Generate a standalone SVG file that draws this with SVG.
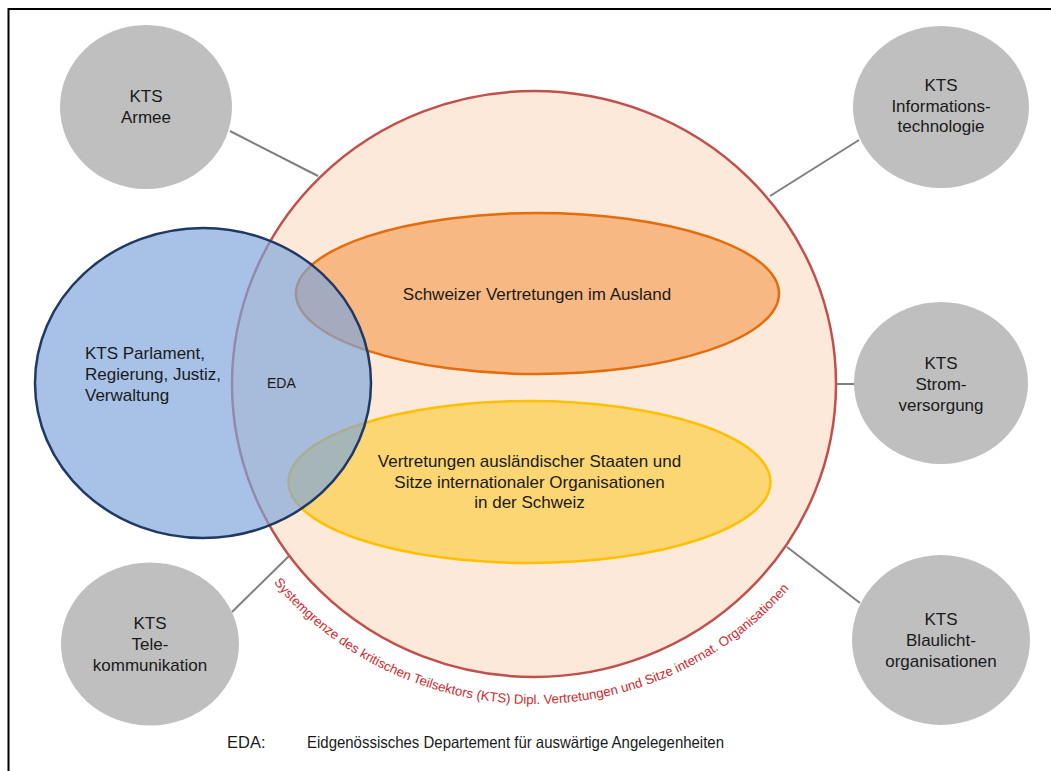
<svg xmlns="http://www.w3.org/2000/svg" width="1051" height="771" viewBox="0 0 1051 771">
<defs>
<style>
text { font-family: "Liberation Sans", Arial, sans-serif; fill: #1a1a1a; }
.lbl { font-size: 17px; text-anchor: middle; }
.kts ellipse { fill: #BFBFBF; }
.conn line { stroke: #7F7F7F; stroke-width: 2; }
.curve { font-size: 13.2px; fill: #D0282E; }
</style>
<path id="arcPath" d="M202,384 A332,320 0 0 0 866,384" fill="none"/>
</defs>
<rect width="1051" height="771" fill="#ffffff"/>
<path d="M8.5,771 V9 H1051" fill="none" stroke="#000" stroke-width="2"/>

<g id="connectors" class="conn">
<line x1="230" y1="131" x2="318" y2="176"/>
<line x1="859" y1="140" x2="770" y2="196"/>
<line x1="836" y1="384" x2="854" y2="384"/>
<line x1="787" y1="547" x2="860" y2="603"/>
<line x1="232" y1="612" x2="289" y2="556"/>
</g>

<g id="system-boundary">
<ellipse cx="534" cy="384" rx="302" ry="293" fill="#FDE9D9" stroke="#C0504D" stroke-width="2.5"/>
<text class="curve"><textPath href="#arcPath" startOffset="508" text-anchor="middle">Systemgrenze des kritischen Teilsektors (KTS) Dipl. Vertretungen und Sitze internat. Organisationen</textPath></text>
</g>

<g id="schweizer-vertretungen">
<ellipse cx="537.5" cy="293.5" rx="241.5" ry="80.5" fill="#F8B883" stroke="#E46C0A" stroke-width="2.5"/>
</g>

<g id="auslaendische-vertretungen">
<ellipse cx="529.5" cy="482" rx="241" ry="81" fill="#FCD672" stroke="#FFC000" stroke-width="2.5"/>
</g>

<g id="kts-parlament">
<ellipse cx="203" cy="383" rx="168" ry="155" fill="#7EA5DA" fill-opacity="0.68" stroke="#1F3864" stroke-width="2.5"/>
<text style="font-size:17px"><tspan x="85" y="359">KTS Parlament,</tspan><tspan x="85" y="380">Regierung, Justiz,</tspan><tspan x="85" y="401">Verwaltung</tspan></text>
<text x="267" y="388" style="font-size:14px">EDA</text>
</g>

<g id="labels-center">
<text class="lbl" x="537" y="300">Schweizer Vertretungen im Ausland</text>
<text class="lbl"><tspan x="529.5" y="467">Vertretungen ausländischer Staaten und</tspan><tspan x="529.5" y="487.5">Sitze internationaler Organisationen</tspan><tspan x="529.5" y="508">in der Schweiz</tspan></text>
</g>

<g id="kts-armee" class="kts">
<ellipse cx="146" cy="107" rx="86" ry="82"/>
<text class="lbl"><tspan x="146" y="102">KTS</tspan><tspan x="146" y="123">Armee</tspan></text>
</g>

<g id="kts-informationstechnologie" class="kts">
<ellipse cx="941" cy="107" rx="88" ry="81"/>
<text class="lbl"><tspan x="941" y="91">KTS</tspan><tspan x="941" y="111.5">Informations-</tspan><tspan x="941" y="132">technologie</tspan></text>
</g>

<g id="kts-stromversorgung" class="kts">
<ellipse cx="941" cy="383" rx="87" ry="81"/>
<text class="lbl"><tspan x="941" y="369">KTS</tspan><tspan x="941" y="390">Strom-</tspan><tspan x="941" y="410.5">versorgung</tspan></text>
</g>

<g id="kts-blaulichtorganisationen" class="kts">
<ellipse cx="941" cy="640" rx="89" ry="85"/>
<text class="lbl"><tspan x="941" y="625">KTS</tspan><tspan x="941" y="646">Blaulicht-</tspan><tspan x="941" y="666.5">organisationen</tspan></text>
</g>

<g id="kts-telekommunikation" class="kts">
<ellipse cx="150" cy="644" rx="89" ry="81.5"/>
<text class="lbl"><tspan x="150" y="629">KTS</tspan><tspan x="150" y="650">Tele-</tspan><tspan x="150" y="671">kommunikation</tspan></text>
</g>

<g id="legend">
<text x="227" y="748" style="font-size:16.5px">EDA:</text>
<text x="307" y="748" style="font-size:16.5px" textLength="417" lengthAdjust="spacingAndGlyphs">Eidgenössisches Departement für auswärtige Angelegenheiten</text>
</g>
</svg>
